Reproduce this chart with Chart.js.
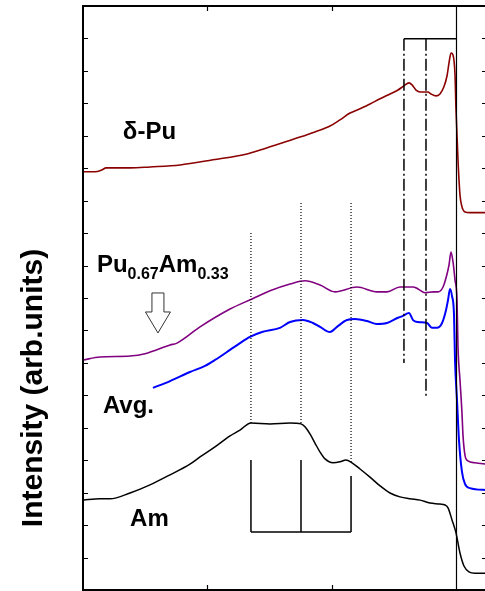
<!DOCTYPE html>
<html>
<head>
<meta charset="utf-8">
<script src="https://cdn.jsdelivr.net/npm/chart.js@4.4.0/dist/chart.umd.min.js"></script>
<style>
  html, body { margin: 0; padding: 0; background: #fff; }
  #wrap { width: 485px; height: 591px; overflow: hidden; }
</style>
</head>
<body>
<div id="wrap"><canvas id="spectra" width="490" height="591"></canvas></div>
<script>
        // Spectra (arbitrary energy units along x, stacked intensity along y)
        const deltaPuX = [0, 0.96, 1.53, 1.85, 3.78, 5.38, 7.79, 10.44, 13.17, 14.22, 15.02, 16.22, 17.43, 18.63, 19.84, 20.64, 21.45, 22.25, 23.05, 23.86, 24.66, 25.30, 25.78, 26.18, 26.43, 26.75, 27.07, 27.71, 27.95, 28.35, 28.67, 28.99, 29.24, 29.40, 29.56, 29.72, 29.88, 29.96, 30.12, 30.28, 30.44, 30.68, 31.08, 32.45];
        const deltaPuY = [12.89, 12.89, 12.95, 13.01, 13.01, 13.04, 13.10, 13.26, 13.44, 13.56, 13.66, 13.81, 13.96, 14.12, 14.30, 14.49, 14.70, 14.83, 14.98, 15.14, 15.29, 15.41, 15.54, 15.63, 15.57, 15.41, 15.35, 15.35, 15.29, 15.23, 15.29, 15.51, 15.85, 16.25, 16.55, 16.49, 15.88, 14.80, 13.26, 12.18, 11.81, 11.65, 11.63, 11.63];

        const alloyX = [0, 1.37, 3.78, 4.98, 6.99, 7.55, 9.40, 11.81, 13.58, 15.02, 16.63, 17.83, 19.04, 20.24, 22.01, 23.61, 24.42, 25.46, 26.51, 26.91, 27.47, 28.11, 28.51, 28.92, 29.24, 29.40, 29.56, 29.72, 29.88, 30.04, 30.12, 30.28, 30.44, 30.52, 30.68, 30.92, 31.48, 32.45];
        const alloyY = [7.09, 7.18, 7.21, 7.28, 7.55, 7.61, 8.11, 8.66, 8.97, 9.22, 9.43, 9.53, 9.40, 9.19, 9.34, 9.19, 9.19, 9.34, 9.34, 9.28, 9.16, 9.19, 9.19, 9.34, 9.74, 10.02, 10.42, 10.11, 9.56, 8.94, 7.49, 6.47, 5.46, 4.78, 4.16, 3.98, 3.92, 3.88];

        const avgX = [5.62, 6.99, 8.59, 9.80, 10.60, 11.81, 12.61, 13.41, 14.38, 15.82, 16.63, 17.67, 18.47, 19.04, 19.84, 20.40, 21.20, 21.85, 22.81, 23.61, 24.42, 25.30, 25.70, 26.18, 26.51, 26.91, 27.63, 28.03, 28.43, 28.84, 29.16, 29.32, 29.48, 29.64, 29.80, 29.88, 30.04, 30.20, 30.44, 30.68, 31.08, 32.45];
        const avgY = [6.23, 6.44, 6.72, 6.91, 7.09, 7.40, 7.61, 7.80, 7.95, 8.08, 8.26, 8.32, 8.23, 8.11, 7.95, 8.11, 8.32, 8.35, 8.29, 8.20, 8.23, 8.39, 8.45, 8.54, 8.32, 8.26, 8.23, 8.08, 8.08, 8.23, 8.63, 8.94, 9.28, 9.06, 8.48, 7.09, 5.86, 4.62, 3.64, 3.27, 3.14, 3.08];

        const amX = [0, 1.37, 2.17, 3.78, 5.38, 6.99, 8.59, 9.40, 10.60, 11.81, 12.61, 13.49, 15.02, 16.63, 17.51, 17.83, 18.23, 18.63, 19.04, 19.44, 20.08, 20.64, 21.12, 21.61, 22.25, 23.05, 23.86, 24.66, 25.46, 26.26, 27.07, 27.87, 28.67, 29.08, 29.32, 29.64, 29.96, 30.28, 30.60, 31.00, 31.48, 32.45];
        const amY = [2.77, 2.81, 2.81, 2.99, 3.24, 3.55, 3.88, 4.10, 4.41, 4.75, 4.93, 5.15, 5.12, 5.15, 5.12, 5.03, 4.81, 4.53, 4.25, 4.04, 3.92, 3.95, 4.01, 3.92, 3.73, 3.48, 3.21, 2.99, 2.87, 2.81, 2.77, 2.68, 2.65, 2.62, 2.53, 2.16, 1.76, 1.14, 0.74, 0.56, 0.52, 0.52];

        // Am features: dotted markers and the bracket underneath
        const amPeakX = [13.49, 17.51, 21.53];
        const amPeakTop = [11.00, 11.93, 11.93];
        const amPeakBottom = [5.15, 5.15, 3.92];
        const amBarTop = [4.01, 4.01, 3.51];
        const amBarBase = 1.79;

        // Pu features: dash-dot markers joined to the edge line
        const puPeakX = [25.78, 27.55];
        const puPeakBottom = [7.00, 5.95];
        const puBarTop = 16.99;
        const edgeX = 30;

        // tick marks (unlabelled)
        const xTicks = [10, 20];
        const yTicks = [1, 2, 3, 4, 5, 6, 7, 8, 9, 10, 11, 12, 13, 14, 15, 16, 17];

        const xMin = 0, xMax = 32.45, yMin = 0, yMax = 18;

        const pts = (xs, ys) => xs.map((v, i) => ({ x: v, y: ys[i] }));

        function curve(xs, ys, color, width) {
            return {
                data: pts(xs, ys),
                borderColor: color,
                borderWidth: width,
                pointRadius: 0,
                cubicInterpolationMode: 'monotone',
                fill: false
            };
        }

        function segment(x0, y0, x1, y1, dash, width) {
            return {
                data: [{ x: x0, y: y0 }, { x: x1, y: y1 }],
                borderColor: '#000',
                borderWidth: width,
                borderDash: dash,
                pointRadius: 0,
                tension: 0,
                fill: false
            };
        }

        const datasets = [];
        // edge line
        datasets.push(segment(edgeX, yMin, edgeX, yMax, [], 1.2));
        amPeakX.forEach((v, i) => {
            datasets.push(segment(v, amPeakTop[i], v, amPeakBottom[i], [1, 2], 1.2));
            datasets.push(segment(v, amBarTop[i], v, amBarBase, [], 1.5));
        });
        datasets.push(segment(amPeakX[0], amBarBase, amPeakX[2], amBarBase, [], 1.5));
        puPeakX.forEach((v, i) => {
            datasets.push(segment(v, puBarTop, v, puPeakBottom[i], [12, 3, 2, 3], 1.5));
        });
        datasets.push(segment(puPeakX[0], puBarTop, edgeX, puBarTop, [], 1.5));

        datasets.push(curve(deltaPuX, deltaPuY, '#8b0000', 1.6));
        datasets.push(curve(alloyX, alloyY, '#800080', 1.6));
        datasets.push(curve(avgX, avgY, '#0000ff', 2));
        datasets.push(curve(amX, amY, '#000000', 1.5));

        const labelFont = "'Liberation Sans', Arial, sans-serif";

        // frame, inward ticks, captions
        const decorations = {
            id: 'decorations',
            afterDraw(chart) {
                const { ctx, chartArea: a, scales: { x, y } } = chart;
                ctx.save();
                ctx.strokeStyle = '#000';
                ctx.lineWidth = 2;
                ctx.strokeRect(a.left, a.top, a.right - a.left, a.bottom - a.top);

                ctx.lineWidth = 1.2;
                ctx.beginPath();
                yTicks.forEach(v => {
                    const py = Math.round(y.getPixelForValue(v)) + 0.5;
                    ctx.moveTo(a.left, py); ctx.lineTo(a.left + 5, py);
                    ctx.moveTo(a.right - 5, py); ctx.lineTo(a.right, py);
                });
                xTicks.forEach(v => {
                    const px = Math.round(x.getPixelForValue(v)) + 0.5;
                    ctx.moveTo(px, a.top); ctx.lineTo(px, a.top + 5);
                    ctx.moveTo(px, a.bottom); ctx.lineTo(px, a.bottom - 5);
                });
                ctx.stroke();

                ctx.fillStyle = '#000';
                ctx.textBaseline = 'alphabetic';

                // y axis title
                ctx.save();
                ctx.translate(a.left - 41, (a.top + a.bottom) / 2 + 90);
                ctx.rotate(-Math.PI / 2);
                ctx.textAlign = 'center';
                ctx.font = 'bold 30px ' + labelFont;
                ctx.fillText('Intensity (arb.units)', 0, 0);
                ctx.restore();

                ctx.textAlign = 'left';
                ctx.font = 'bold 24px ' + labelFont;
                ctx.fillText('δ-Pu', x.getPixelForValue(3.2), y.getPixelForValue(13.9));
                ctx.fillText('Avg.', x.getPixelForValue(1.6), y.getPixelForValue(5.45));
                ctx.fillText('Am', x.getPixelForValue(3.78), y.getPixelForValue(1.97));

                // Pu0.67Am0.33 with subscripts
                let tx = x.getPixelForValue(1.12);
                const ty = y.getPixelForValue(9.8);
                const parts = [['Pu', false], ['0.67', true], ['Am', false], ['0.33', true]];
                parts.forEach(([s, sub]) => {
                    ctx.font = sub ? 'bold 16px ' + labelFont : 'bold 24px ' + labelFont;
                    ctx.fillText(s, tx, sub ? ty + 7 : ty);
                    tx += ctx.measureText(s).width;
                });

                // hollow arrow pointing at the alloy curve
                const ax = x.getPixelForValue(6.02);
                const ay = y.getPixelForValue(9.155);
                ctx.beginPath();
                ctx.moveTo(ax - 6, ay);
                ctx.lineTo(ax + 6, ay);
                ctx.lineTo(ax + 6, ay + 19);
                ctx.lineTo(ax + 12.5, ay + 19);
                ctx.lineTo(ax, ay + 40);
                ctx.lineTo(ax - 12.5, ay + 19);
                ctx.lineTo(ax - 6, ay + 19);
                ctx.closePath();
                ctx.fillStyle = '#fff';
                ctx.fill();
                ctx.strokeStyle = '#333';
                ctx.lineWidth = 1;
                ctx.stroke();
                ctx.restore();
            }
        };

        new Chart(document.getElementById('spectra').getContext('2d'), {
            type: 'line',
            data: { datasets: datasets },
            options: {
                responsive: false,
                animation: false,
                layout: {
                    padding: { left: 83, right: 3, top: 6, bottom: 1 }
                },
                scales: {
                    x: { type: 'linear', min: xMin, max: xMax, display: false },
                    y: { type: 'linear', min: yMin, max: yMax, display: false }
                },
                plugins: {
                    legend: { display: false },
                    tooltip: { enabled: false }
                }
            },
            plugins: [decorations]
        });
</script>
</body>
</html>
